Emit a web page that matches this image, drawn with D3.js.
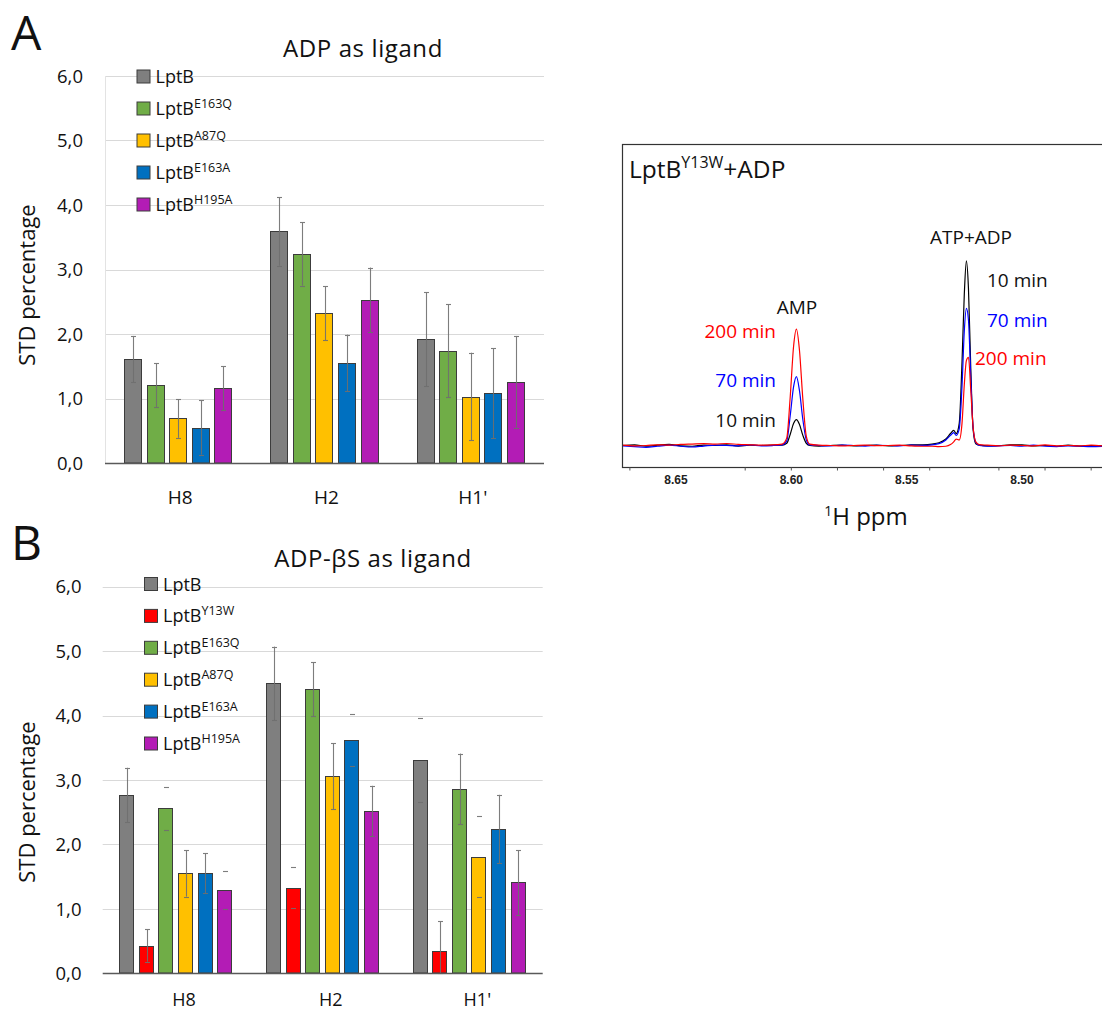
<!DOCTYPE html>
<html><head><meta charset="utf-8">
<script src="https://cdn.jsdelivr.net/npm/d3@7"></script>
<style>body{margin:0;background:#fff}svg{display:block}text{font-family:"Open Sans",sans-serif;fill:#111}</style>
</head><body><svg id="c" width="1102" height="1012"></svg>
<script>
// ---------- DATA ----------
const categories = ["H8", "H2", "H1'"];
const yTickValues = [0, 1, 2, 3, 4, 5, 6];

// Panel A: ADP as ligand (superscript mutant names on "LptB")
const seriesA = ["", "E163Q", "A87Q", "E163A", "H195A"];
const valuesA_LptB  = [1.61, 3.59, 1.92];
const valuesA_E163Q = [1.21, 3.24, 1.74];
const valuesA_A87Q  = [0.69, 2.32, 1.03];
const valuesA_E163A = [0.55, 1.55, 1.08];
const valuesA_H195A = [1.16, 2.53, 1.26];
const errorsA_LptB  = [0.36, 0.53, 0.73];
const errorsA_E163Q = [0.34, 0.49, 0.72];
const errorsA_A87Q  = [0.30, 0.42, 0.68];
const errorsA_E163A = [0.42, 0.44, 0.70];
const errorsA_H195A = [0.34, 0.50, 0.71];

// Panel B: ADP-βS as ligand
const seriesB = ["", "Y13W", "E163Q", "A87Q", "E163A", "H195A"];
const valuesB_LptB  = [2.77, 4.50, 3.31];
const valuesB_Y13W  = [0.43, 1.33, 0.34];
const valuesB_E163Q = [2.56, 4.41, 2.86];
const valuesB_A87Q  = [1.55, 3.06, 1.81];
const valuesB_E163A = [1.55, 3.62, 2.24];
const valuesB_H195A = [1.29, 2.52, 1.41];
const errorsB_LptB  = [0.42, 0.57, 0.65];
const errorsB_Y13W  = [0.25, 0.32, 0.47];
const errorsB_E163Q = [0.33, 0.42, 0.55];
const errorsB_A87Q  = [0.36, 0.51, 0.63];
const errorsB_E163A = [0.31, 0.40, 0.53];
const errorsB_H195A = [0.29, 0.39, 0.50];
// error bars whose whisker line is not drawn in the original (caps only)
const capsOnlyB = [[false,false,true],[false,true,false],[true,false,false],[false,false,true],[false,true,false],[true,false,false]];

// NMR spectrum, LptB(Y13W)+ADP
const ppm = [8.673,8.668,8.663,8.658,8.653,8.648,8.643,8.638,8.633,8.628,8.623,8.618,8.613,8.608,
  8.604,8.602,8.6005,8.599,8.5978,8.5965,8.595,8.5935,8.592,
  8.588,8.583,8.578,8.573,8.568,8.563,8.558,8.553,8.548,8.543,
  8.539,8.536,8.533,8.531,8.5296,8.5285,8.5272,8.526,8.525,8.5241,8.5232,8.5222,8.5212,8.52,8.5185,
  8.515,8.51,8.505,8.5,8.495,8.49,8.485,8.48,8.475,8.47,8.465];
const int10min = [0.000,0.003,-0.003,0.002,0.006,-0.002,-0.004,0.002,0.000,0.004,-0.003,0.002,0.000,0.002,
  0.002,0.012,0.060,0.120,0.140,0.115,0.055,0.012,0.000,
  -0.003,0.000,0.002,-0.002,0.000,0.002,-0.002,0.000,0.003,0.004,
  0.008,0.015,0.035,0.065,0.082,0.065,0.120,0.450,0.820,1.000,0.850,0.420,0.090,0.010,0.002,
  -0.002,0.000,0.003,0.004,-0.002,0.000,-0.004,0.002,-0.003,0.000,-0.002];
const int70min = [-0.002,-0.006,-0.010,-0.004,0.002,-0.004,-0.008,-0.003,0.002,0.000,-0.002,0.003,-0.002,0.000,
  0.003,0.025,0.160,0.320,0.373,0.300,0.140,0.030,0.003,
  0.000,-0.002,0.002,0.000,-0.003,0.001,0.000,-0.002,0.002,0.001,
  0.004,0.010,0.030,0.055,0.070,0.055,0.090,0.320,0.620,0.743,0.680,0.370,0.100,0.015,0.000,
  -0.004,-0.002,0.000,-0.003,0.002,-0.004,-0.006,-0.002,-0.004,-0.006,-0.004];
const int200min = [0.002,-0.002,0.000,0.004,0.002,0.006,0.008,0.010,0.008,0.011,0.006,0.004,0.002,0.003,
  0.008,0.040,0.260,0.540,0.630,0.520,0.250,0.050,0.008,
  0.002,0.000,-0.002,0.000,0.002,-0.001,0.000,0.002,-0.002,-0.004,
  -0.004,-0.006,-0.004,0.005,0.020,0.035,0.030,0.120,0.330,0.460,0.478,0.300,0.100,0.020,0.005,
  0.002,-0.002,0.002,0.000,-0.002,0.003,-0.002,0.000,-0.002,0.002,-0.002];
const ppmMajorTicks = [8.65, 8.60, 8.55, 8.50];
const ppmMinorTicks = [8.67, 8.62, 8.60, 8.58, 8.56, 8.54, 8.51, 8.49, 8.47];

// ---------- STYLE ----------
const colorMap = {"": "#7f7f7f", "Y13W": "#ff0000", "E163Q": "#70ad47", "A87Q": "#ffc000", "E163A": "#0070c0", "H195A": "#b31cb5"};
const svg = d3.select("#c");
const fmt = v => d3.format(".1f")(v).replace(".", ",");

function drawBarPanel(o) {
  const g = svg.append("g");
  const y = d3.scaleLinear().domain([0, 6]).range([o.bottom, o.top]);
  const x0 = d3.scaleBand().domain(categories).range([o.left, o.right]).padding(0);
  const x1 = d3.scaleBand().domain(o.series).range([0, x0.bandwidth()])
    .paddingInner(o.pInner).paddingOuter(o.pOuter);

  // gridlines
  g.append("g").selectAll("line").data(yTickValues.filter(d => d > 0)).join("line")
    .attr("x1", o.left).attr("x2", o.right)
    .attr("y1", d => Math.round(y(d)) + 0.5).attr("y2", d => Math.round(y(d)) + 0.5)
    .attr("stroke", "#d9d9d9").attr("stroke-width", 1);
  if (o.leftLine) g.append("line").attr("x1", o.left + 0.5).attr("x2", o.left + 0.5)
    .attr("y1", y(6)).attr("y2", y(0)).attr("stroke", "#e3e3e3");

  // y tick labels
  g.append("g").selectAll("text").data(yTickValues).join("text")
    .attr("x", o.tickRight).attr("y", d => y(d)).attr("dy", "0.36em")
    .attr("text-anchor", "end").style("font-size", "18.5px").text(fmt);

  // bars
  o.series.forEach((s, si) => {
    const vals = o.values[si];
    categories.forEach((c, ci) => {
      const bx = x0(c) + x1(s), bw = x1.bandwidth(), v = vals[ci];
      g.append("rect").attr("x", Math.round(bx) + 0.5).attr("y", Math.round(y(v)) + 0.5)
        .attr("width", Math.round(bw) - 1).attr("height", Math.round(y(0)) - Math.round(y(v)) - 0.5)
        .attr("fill", colorMap[s]).attr("stroke", "#3c3c3c").attr("stroke-width", 1);
    });
  });
  // error bars
  o.series.forEach((s, si) => {
    const vals = o.values[si], errs = o.errors[si];
    categories.forEach((c, ci) => {
      const cx = Math.round(x0(c) + x1(s) + x1.bandwidth() / 2) + 0.5;
      const hi = vals[ci] + errs[ci], lo = Math.max(0, vals[ci] - errs[ci]);
      const capsOnly = o.capsOnly ? o.capsOnly[si][ci] : false;
      const eg = g.append("g").attr("stroke", "#6f6f6f").attr("stroke-width", 1.1).attr("opacity", 0.9);
      if (!capsOnly) eg.append("line").attr("x1", cx).attr("x2", cx).attr("y1", y(hi)).attr("y2", y(lo));
      [hi, lo].forEach(e => eg.append("line").attr("x1", cx - 2.5).attr("x2", cx + 2.5)
        .attr("y1", Math.round(y(e)) + 0.5).attr("y2", Math.round(y(e)) + 0.5));
    });
  });
  // axis line
  g.append("line").attr("x1", o.left).attr("x2", o.right)
    .attr("y1", Math.round(y(0)) + 0.5).attr("y2", Math.round(y(0)) + 0.5)
    .attr("stroke", "#595959").attr("stroke-width", 1.5);

  // x labels
  g.append("g").selectAll("text").data(categories).join("text")
    .attr("x", d => x0(d) + x0.bandwidth() / 2 + o.labelShift).attr("y", o.xLabelY)
    .attr("text-anchor", "middle").style("font-size", o.xLabelSize).text(d => d);

  // y axis title
  g.append("text").attr("transform", `translate(34.5,${o.yTitleY}) rotate(-90)`)
    .attr("text-anchor", "middle").style("font-size", "22px").text("STD percentage");

  // title
  g.append("text").attr("x", o.titleX).attr("y", o.titleY).attr("text-anchor", "middle")
    .style("font-size", "24px").style("letter-spacing", "0.6px").text(o.title);
  // panel letter
  g.append("text").attr("x", 11).attr("y", o.letterY).style("font-size", "48px").text(o.letter);

  // legend
  o.series.forEach((s, i) => {
    const ly = o.legendY + i * o.legendStep;
    g.append("rect").attr("x", o.legendX + 0.5).attr("y", ly - 6.5).attr("width", 13).attr("height", 13)
      .attr("fill", colorMap[s]).attr("stroke", "#3c3c3c").attr("stroke-width", 1);
    const t = g.append("text").attr("x", o.legendX + 19).attr("y", ly + 6.5).style("font-size", "18px");
    t.append("tspan").text("LptB");
    if (s) t.append("tspan").attr("dy", -7.5).style("font-size", "12.5px").text(s);
  });
}

drawBarPanel({
  series: seriesA,
  values: [valuesA_LptB, valuesA_E163Q, valuesA_A87Q, valuesA_E163A, valuesA_H195A],
  errors: [errorsA_LptB, errorsA_E163Q, errorsA_A87Q, errorsA_E163A, errorsA_H195A],
  left: 105, right: 544, top: 76, bottom: 463, pInner: 0.2, pOuter: 0.85,
  tickRight: 83, labelShift: 2, xLabelY: 504, xLabelSize: "19px", yTitleY: 285, leftLine: true,
  title: "ADP as ligand", titleX: 363, titleY: 57, letter: "A", letterY: 50,
  legendX: 136.5, legendY: 76.5, legendStep: 32
});
drawBarPanel({
  series: seriesB,
  values: [valuesB_LptB, valuesB_Y13W, valuesB_E163Q, valuesB_A87Q, valuesB_E163A, valuesB_H195A],
  errors: [errorsB_LptB, errorsB_Y13W, errorsB_E163Q, errorsB_A87Q, errorsB_E163A, errorsB_H195A],
  capsOnly: capsOnlyB,
  left: 102.7, right: 542.7, top: 586.7, bottom: 973.3, pInner: 0.21, pOuter: 0.845,
  tickRight: 81.5, labelShift: 8, xLabelY: 1006, xLabelSize: "18px", yTitleY: 802, leftLine: false,
  title: "ADP-βS as ligand", titleX: 373, titleY: 567, letter: "B", letterY: 560,
  legendX: 144, legendY: 584, legendStep: 31.9
});

// ---------- NMR panel ----------
(function () {
  const L = 622.5, T = 144.5, B = 467.5, R = 1102;
  const x = d3.scaleLinear().domain([8.6732, 8.4653]).range([L, R]);
  const y = d3.scaleLinear().domain([-0.119, 1.63]).range([B, T]);
  const g = svg.append("g");
  svg.append("defs").append("clipPath").attr("id", "nmrclip")
    .append("rect").attr("x", L).attr("y", T).attr("width", R - L).attr("height", B - T);
  const line = d3.line().x((d, i) => x(ppm[i])).y(d => y(d)).curve(d3.curveMonotoneX);
  const lg = g.append("g").attr("clip-path", "url(#nmrclip)");
  [[int10min, "#000000"], [int70min, "#0000ff"], [int200min, "#ff0000"]].forEach(([arr, col]) => {
    lg.append("path").datum(arr).attr("d", line).attr("fill", "none").attr("stroke", col).attr("stroke-width", 1.2);
  });
  g.append("rect").attr("x", L).attr("y", T).attr("width", R - L + 5).attr("height", B - T)
    .attr("fill", "none").attr("stroke", "#333").attr("stroke-width", 1.2);
  // ticks
  g.append("g").selectAll("line").data(ppmMinorTicks).join("line")
    .attr("x1", d => x(d)).attr("x2", d => x(d)).attr("y1", B).attr("y2", B + 3)
    .attr("stroke", "#555").attr("stroke-width", 1);
  g.append("g").selectAll("text").data(ppmMajorTicks).join("text")
    .attr("x", d => x(d)).attr("y", 483.5).attr("text-anchor", "middle")
    .style("font-family", "'Liberation Sans', Arial, sans-serif").style("font-weight", "bold")
    .style("font-size", "12px").style("fill", "#222").text(d => d.toFixed(2));
  // axis title
  const xt = g.append("text").attr("x", 866).attr("y", 525).attr("text-anchor", "middle").style("font-size", "24px");
  xt.append("tspan").attr("dy", -9).style("font-size", "14px").text("1");
  xt.append("tspan").attr("dy", 9).text("H ppm");
  // panel title
  const pt = g.append("text").attr("x", 629).attr("y", 178).style("font-size", "24.5px");
  pt.append("tspan").text("LptB");
  pt.append("tspan").attr("dy", -10).style("font-size", "16px").text("Y13W");
  pt.append("tspan").attr("dy", 10).text("+ADP");
  // annotations
  const ann = [
    {t: "ATP+ADP", x: 971, y: 244, a: "middle", c: "#111"},
    {t: "10 min", x: 987, y: 287, a: "start", c: "#111"},
    {t: "70 min", x: 987, y: 327, a: "start", c: "#0000ff"},
    {t: "200 min", x: 975, y: 365, a: "start", c: "#ff0000"},
    {t: "AMP", x: 797, y: 314, a: "middle", c: "#111"},
    {t: "200 min", x: 776, y: 338, a: "end", c: "#ff0000"},
    {t: "70 min", x: 776, y: 387, a: "end", c: "#0000ff"},
    {t: "10 min", x: 776, y: 427, a: "end", c: "#111"}
  ];
  g.append("g").selectAll("text").data(ann).join("text")
    .attr("x", d => d.x).attr("y", d => d.y).attr("text-anchor", d => d.a)
    .style("font-size", "19px").style("fill", d => d.c).text(d => d.t);
})();
</script></body></html>
